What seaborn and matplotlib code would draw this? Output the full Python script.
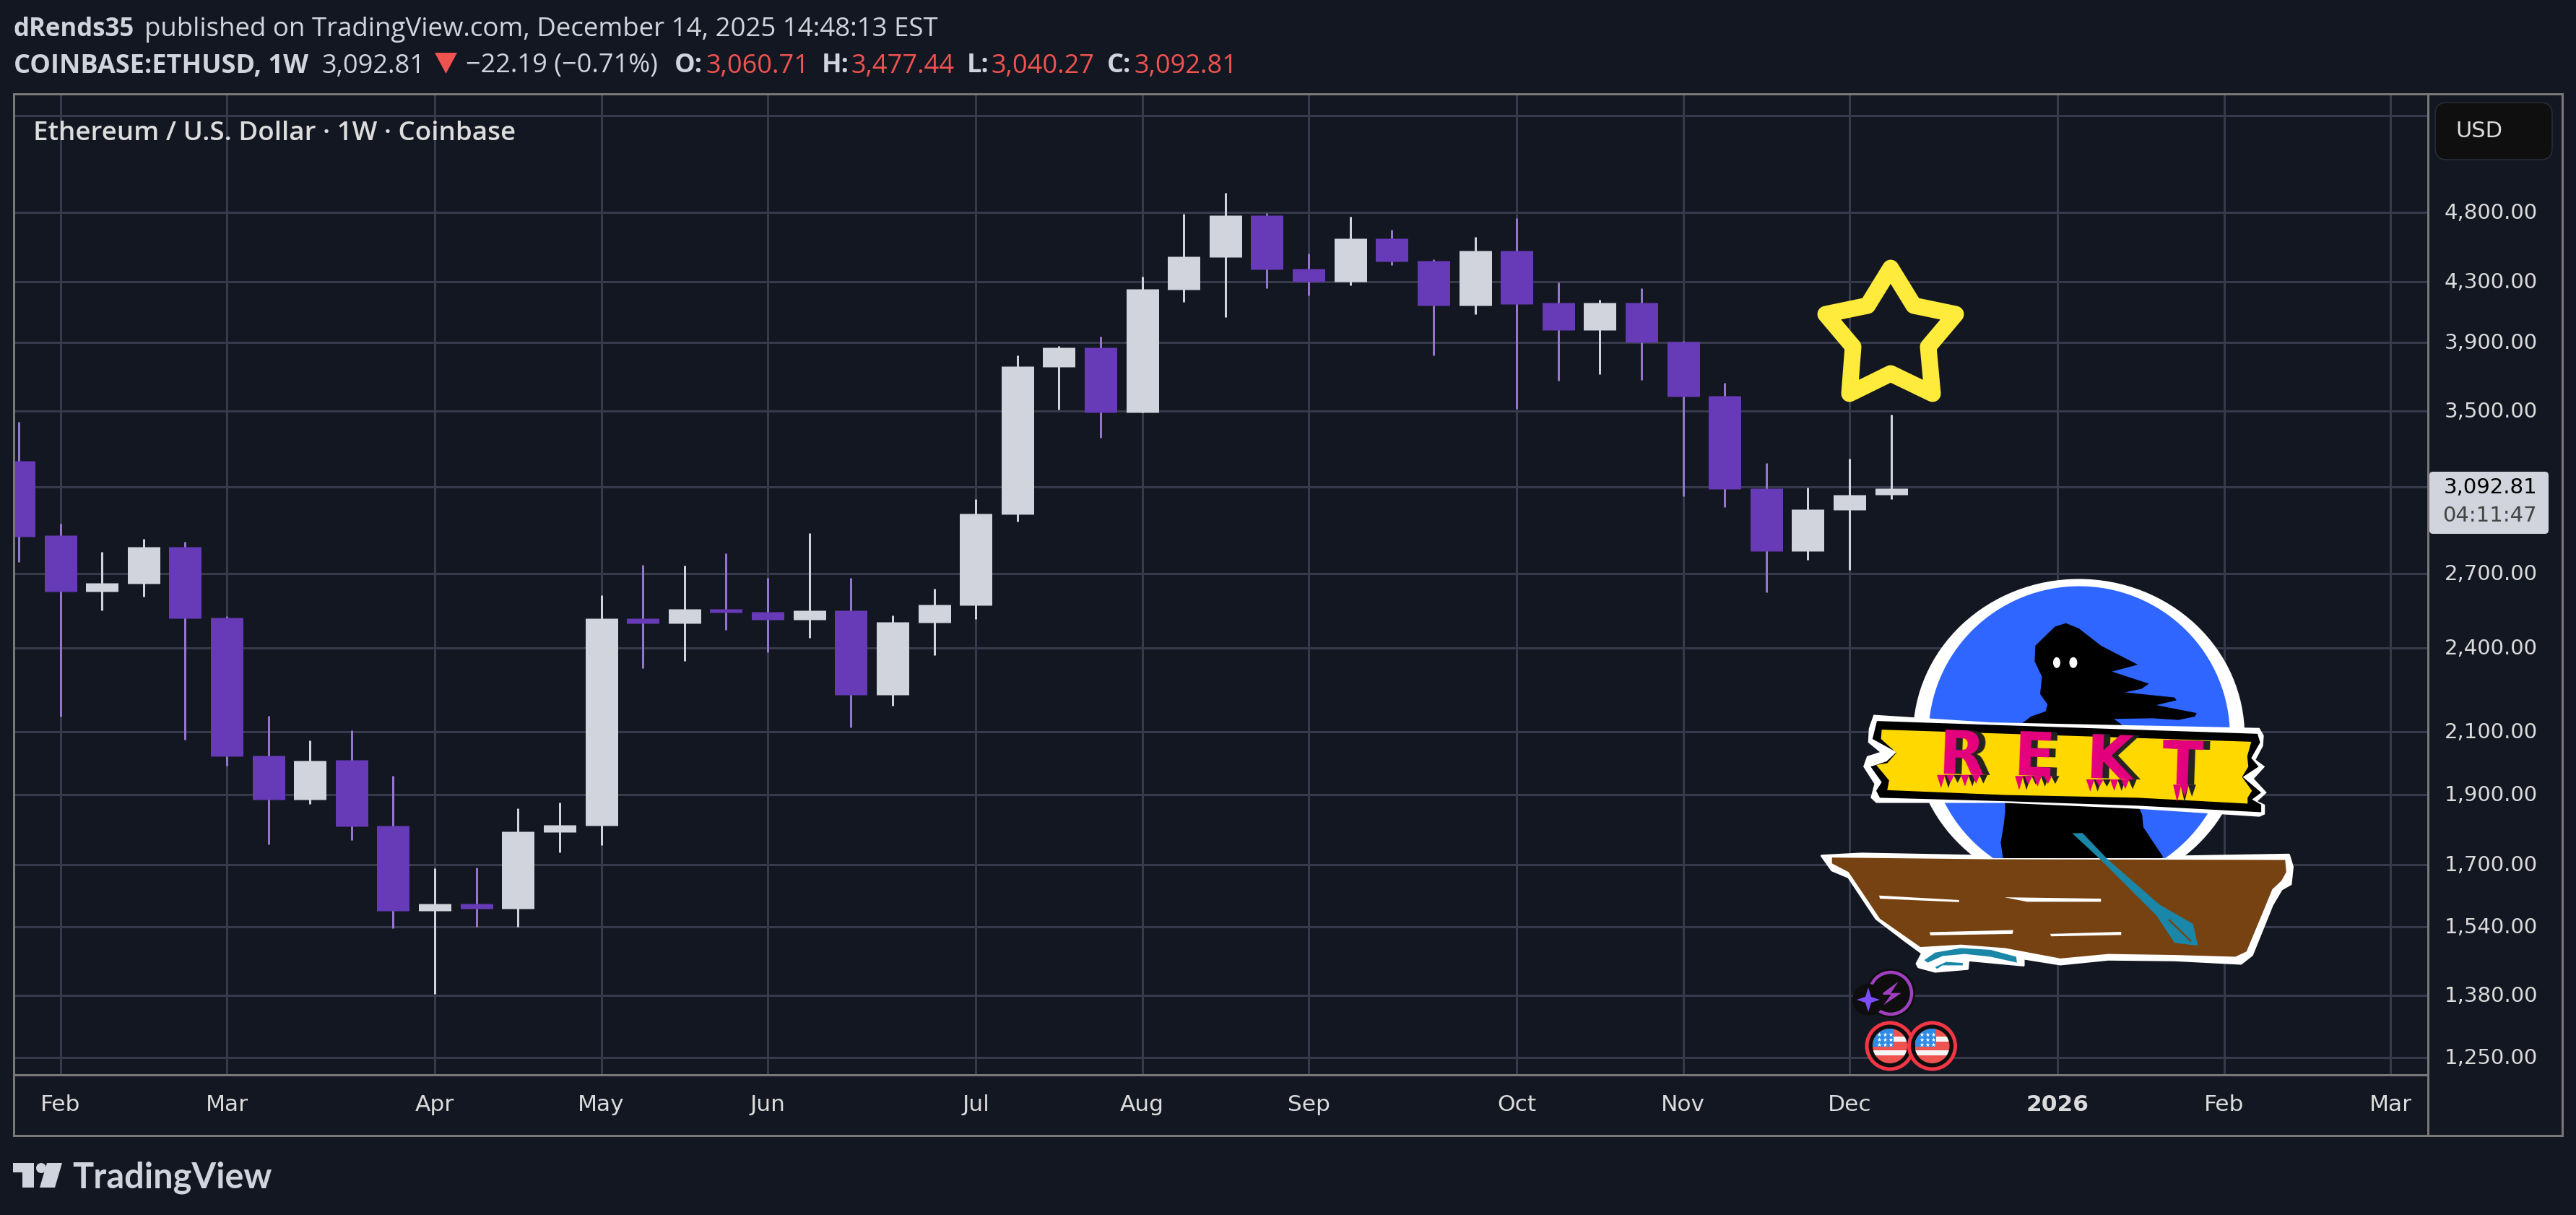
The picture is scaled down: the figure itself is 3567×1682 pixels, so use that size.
import numpy as np
import pandas as pd
import matplotlib.pyplot as plt
import seaborn as sns
from matplotlib.patches import Ellipse, Polygon, Rectangle, FancyBboxPatch, Circle
from matplotlib.transforms import ScaledTranslation

# weekly ETHUSD candles
opens = [3232, 2870, 2623, 2658, 2819, 2518, 2022, 1885, 2008, 1808, 1578, 1597, 1585, 1789, 1808, 2515,
         2495, 2553, 2542, 2509, 2548, 2227, 2499, 2568, 2969, 3752, 3871, 3491, 4244, 4469, 4778, 4388,
         4299, 4605, 4443, 4138, 4517, 4158, 3979, 4158, 3908, 3585, 3093, 2799, 2989, 3060.71]
highs = [3439, 2924, 2795, 2855, 2842, 2523, 2154, 2072, 2105, 1957, 1689, 1691, 1859, 1876, 2610, 2739,
         2735, 2790, 2683, 2881, 2683, 2527, 2637, 3041, 3823, 3880, 3939, 4332, 4790, 4952, 4795, 4495,
         4767, 4670, 4453, 4617, 4755, 4294, 4176, 4254, 3911, 3659, 3221, 3097, 3242, 3477.44]
lows = [2752, 2151, 2547, 2603, 2073, 1990, 1755, 1871, 1767, 1536, 1383, 1539, 1539, 1733, 1753, 2323,
        2350, 2469, 2382, 2438, 2114, 2188, 2371, 2512, 2934, 3507, 3352, 3491, 4163, 4064, 4254, 4204,
        4274, 4415, 3823, 4082, 3511, 3671, 3710, 3676, 3054, 3002, 2622, 2760, 2717, 3040.27]
closes = [2865, 2623, 2660, 2819, 2515, 2019, 1885, 2006, 1806, 1578, 1597, 1585, 1791, 1810, 2515, 2495,
          2553, 2539, 2509, 2548, 2227, 2500, 2571, 2971, 3756, 3871, 3491, 4249, 4474, 4778, 4383, 4299,
          4605, 4440, 4139, 4517, 4149, 3979, 4158, 3902, 3580, 3089, 2799, 2992, 3062, 3092.81]

price_ticks = [5600, 4800, 4300, 3900, 3500, 3100, 2700, 2400, 2100, 1900, 1700, 1540, 1380, 1250]
price_labels = ["", "4,800.00", "4,300.00", "3,900.00", "3,500.00", "", "2,700.00", "2,400.00", "2,100.00",
                "1,900.00", "1,700.00", "1,540.00", "1,380.00", "1,250.00"]
month_ticks = [1, 5, 10, 14, 18, 23, 27, 31, 36, 40, 44, 49, 53, 57]
month_labels = ["Feb", "Mar", "Apr", "May", "Jun", "Jul", "Aug", "Sep", "Oct", "Nov", "Dec", "2026", "Feb", "Mar"]

BG = "#131722"
GRID = "#363A4A"
BORDER = "#787878"
BEAR = "#673AB7"
BEAR_WICK = "#9575CD"
BULL = "#D1D4DC"
TEXT = "#D1D4DC"
AXIS_TEXT = "#DBDBDB"
RED = "#EF5350"

W, H = 3567, 1683
DPI = 100
PX = 72 / DPI  # points per pixel

sns.set_theme(style="darkgrid", rc={
    "figure.facecolor": BG, "axes.facecolor": BG, "savefig.facecolor": BG,
    "grid.color": GRID, "grid.linewidth": 3 * PX,
    "axes.edgecolor": BORDER, "axes.linewidth": 3 * PX,
    "lines.solid_capstyle": "butt",
})
plt.rcParams["font.family"] = ["DejaVu Sans"]

fig = plt.figure(figsize=(W / DPI, H / DPI), dpi=DPI)
ax = fig.add_axes([19 / W, 1 - 1489 / H, (3362 - 19) / W, (1489 - 130.5) / H])
ax.set_yscale("log")

weeks = np.arange(len(opens))
candles = pd.DataFrame({"week": weeks, "open": opens, "high": highs, "low": lows, "close": closes})
candles["dir"] = np.where(candles["close"] >= candles["open"], "up", "down")
candles["top"] = candles[["open", "close"]].max(axis=1)
candles["bottom"] = candles[["open", "close"]].min(axis=1)

wicks = candles.melt(id_vars=["week", "dir"], value_vars=["high", "low"], value_name="price")
bodies = candles.melt(id_vars=["week", "dir"], value_vars=["top", "bottom"], value_name="price")

sns.lineplot(data=wicks, x="week", y="price", units="week", estimator=None, hue="dir",
             palette={"up": BULL, "down": BEAR_WICK}, linewidth=3 * PX, legend=False, ax=ax)
sns.lineplot(data=bodies, x="week", y="price", units="week", estimator=None, hue="dir",
             palette={"up": BULL, "down": BEAR}, linewidth=45 * PX, legend=False, ax=ax)

ax.set_xlim(-0.12, 57.9)
ax.set_ylim(1216, 5799)
ax.set_xlabel("")
ax.set_ylabel("")
ax.minorticks_off()
ax.yaxis.tick_right()
ax.set_yticks(price_ticks)
ax.set_yticklabels(price_labels, color=AXIS_TEXT, fontsize=21, ha="right")
ax.tick_params(axis="y", length=0, pad=152 * PX)
ax.set_xticks(month_ticks)
ax.set_xticklabels(month_labels, color=AXIS_TEXT, fontsize=22.5)
ax.tick_params(axis="x", length=0, pad=26 * PX)
for lab in ax.get_xticklabels():
    if lab.get_text() == "2026":
        lab.set_fontweight("bold")
# price labels sit slightly above their grid lines
nudge = ScaledTranslation(0, 3 / DPI, fig.dpi_scale_trans)
for lab in ax.get_yticklabels():
    lab.set_transform(lab.get_transform() + nudge)
ax.grid(True, axis="both")
ax.set_axisbelow(True)

# overlay in pixel coordinates for the frame, header and the drawn sticker
ov = fig.add_axes([0, 0, 1, 1])
ov.set_xlim(0, W)
ov.set_ylim(H, 0)
ov.axis("off")
ov.patch.set_alpha(0)

ov.add_patch(Rectangle((19, 130.5), 3548 - 19, 1573 - 130.5, fill=False, ec=BORDER, lw=3 * PX))
ov.plot([3362, 3362], [130, 1573], color=BORDER, lw=3 * PX)

# header
hdr = dict(family="Open Sans", fontsize=26, color=TEXT, va="baseline")
ov.text(19, 50, "dRends35", fontweight="bold", **{**hdr, "fontsize": 25})
ov.text(200, 50, "published on TradingView.com, December 14, 2025 14:48:13 EST", **{**hdr, "fontsize": 26.35})
ov.text(19, 100.5, "COINBASE:ETHUSD, 1W", fontweight="bold", **hdr)
ov.text(445, 100.5, "3,092.81", **hdr)
ov.add_patch(Polygon([(602, 74), (633, 74), (617.5, 103)], fc=RED, ec="none"))
ov.text(645, 100.5, "\u221222.19 (\u22120.71%)", **hdr)
for x_lab, lab, x_val, val in [(934, "O:", 977, "3,060.71"), (1138, "H:", 1178, "3,477.44"),
                               (1339, "L:", 1372, "3,040.27"), (1533, "C:", 1570, "3,092.81")]:
    ov.text(x_lab, 100.5, lab, fontweight="bold", **hdr)
    ov.text(x_val, 100.5, val, **{**hdr, "color": RED})
ov.text(46, 194, "Ethereum / U.S. Dollar \u00b7 1W \u00b7 Coinbase", family="Open Sans", fontsize=26.5,
        fontweight="semibold", color="#DDDDDD", va="baseline")

# price scale extras
ov.add_patch(FancyBboxPatch((3372, 143), 162, 79, boxstyle="round,pad=0,rounding_size=16",
                            fc="#0F0F0F", ec="#2A2E39", lw=1.5 * PX))
ov.text(3400, 181, "USD", fontsize=22, color=AXIS_TEXT, va="center")
ov.add_patch(FancyBboxPatch((3364, 654), 165, 86, boxstyle="round,pad=0,rounding_size=5", fc=BULL, ec="none"))
ov.text(3513, 675, "3,092.81", ha="right", va="center", fontsize=21, color="#000000")
ov.text(3513, 714, "04:11:47", ha="right", va="center", fontsize=21, color="#444444")

# star drawn above the last candle
star_line = [(2618, 372), (2650, 424), (2708, 436), (2670, 481), (2676, 546), (2618, 518),
             (2561, 546), (2566, 481), (2528, 436), (2586, 424)]
ov.add_patch(Polygon(star_line, closed=True, fill=False, ec="#FFEB3B", lw=23 * PX, joinstyle="round"))


def z(pts):
    return [(2450 + px / 1.96, 780 + py / 2.09) for px, py in pts]


white_body = Ellipse((2450 + 840 / 1.96, 780 + 500 / 2.09), 2 * 450 / 1.96, 2 * 453 / 2.09, fc="white", ec="none")
blue_body = Ellipse((2450 + 841 / 1.96, 780 + 500 / 2.09), 2 * 409 / 1.96, 2 * 432 / 2.09, fc="#2E66FF", ec="none")
ov.add_patch(white_body)
ov.add_patch(blue_body)

figure_top = [(680, 470), (710, 445), (750, 430), (755, 410), (735, 380), (740, 330), (720, 285), (722, 240),
              (775, 185), (805, 175), (840, 190), (900, 240), (1000, 295), (930, 315), (1030, 350), (1010, 365),
              (965, 375), (1100, 390), (1105, 398), (1050, 412), (1160, 435), (1155, 445), (1110, 455),
              (1040, 450), (935, 452), (965, 475), (968, 490), (680, 490)]
figure_low = [(640, 690), (1000, 700), (1012, 730), (1015, 765), (1068, 850), (1065, 860), (635, 860),
              (628, 810), (636, 760), (640, 720)]
ov.add_patch(Polygon(z(figure_top), fc="black", ec="none"))
ov.add_patch(Polygon(z(figure_low), fc="black", ec="none"))
ov.add_patch(Ellipse((2450 + 780 / 1.96, 780 + 289 / 2.09), 10, 15, fc="white", ec="none"))
ov.add_patch(Ellipse((2450 + 825 / 1.96, 780 + 289 / 2.09), 11, 15, fc="white", ec="none"))

banner_white = [(283, 440), (600, 462), (1330, 478), (1342, 500), (1340, 530), (1320, 570), (1345, 590),
                (1315, 625), (1350, 665), (1325, 690), (1345, 700), (1345, 728), (1330, 735), (1000, 712),
                (640, 695), (290, 695), (275, 680), (285, 640), (255, 590), (265, 560), (300, 548), (268, 520),
                (270, 480)]
banner_black = [(292, 458), (1325, 495), (1332, 520), (1308, 565), (1328, 590), (1285, 620), (1335, 665),
                (1310, 685), (1335, 700), (1335, 722), (1000, 703), (640, 690), (300, 680), (290, 660),
                (305, 635), (275, 590), (318, 575), (345, 548), (280, 510)]
banner_yellow = [(305, 483), (1308, 518), (1297, 560), (1300, 590), (1283, 620), (1310, 660), (1298, 680),
                 (1298, 697), (1000, 680), (640, 672), (320, 658), (325, 630), (290, 585), (320, 580),
                 (345, 550), (303, 510)]
ov.add_patch(Polygon(z(banner_white), fc="white", ec="none"))
ov.add_patch(Polygon(z(banner_black), fc="black", ec="none"))
ov.add_patch(Polygon(z(banner_yellow), fc="#FFD800", ec="none"))

letters = [("R", 525, 562, [(-55, 35), (-30, 20), (10, 30), (40, 22)]),
           ("E", 722, 565, [(-40, 38), (-15, 22), (10, 28), (38, 20)]),
           ("K", 925, 575, [(-50, 32), (-25, 18), (15, 30), (45, 25)]),
           ("T", 1125, 590, [(-14, 48), (6, 32)])]
for letter, lx, ly, drips in letters:
    cx, cy = z([(lx, ly)])[0]
    ov.text(cx + 7, cy, letter, fontsize=60, fontweight="bold", color="#222222", ha="center", va="center", rotation=-2)
    for shift, col in ((16, "#222222"), (-4, "#E6007E")):
        for dx, length in drips:
            ov.add_patch(Polygon(z([(lx + dx + shift - 11, ly + 52), (lx + dx + shift + 11, ly + 52),
                                    (lx + dx + shift, ly + 55 + length)]), fc=col, ec="none"))
    ov.text(cx - 2, cy, letter, fontsize=60, fontweight="bold", color="#E6007E", ha="center", va="center", rotation=-2)

boat_white = [(142, 848), (250, 842), (545, 848), (595, 858), (1085, 858), (1130, 850), (1410, 845), (1420, 880),
              (1415, 930), (1390, 945), (1365, 990), (1310, 1135), (1280, 1160), (1100, 1150), (920, 1148),
              (790, 1162), (690, 1145), (690, 1165), (540, 1150), (538, 1175), (450, 1183), (405, 1170),
              (400, 1160), (415, 1130), (370, 1095), (290, 1030), (215, 910), (170, 890)]
boat_brown = [(170, 853), (595, 858), (1400, 860), (1403, 895), (1390, 920), (1365, 945), (1340, 1010),
              (1295, 1125), (1265, 1140), (1100, 1135), (920, 1132), (790, 1145), (640, 1115), (520, 1105),
              (410, 1112), (300, 1030), (215, 895), (170, 870)]
ov.add_patch(Polygon(z(boat_white), fc="white", ec="white", lw=3 * PX, joinstyle="round"))
ov.add_patch(Polygon(z(boat_brown), fc="#774212", ec="none"))
for plank in ([(298, 963), (515, 976), (515, 982), (300, 972)], [(638, 968), (900, 972), (900, 981), (700, 981)],
              [(435, 1069), (662, 1063), (660, 1074), (437, 1078)], [(762, 1074), (955, 1068), (955, 1077), (765, 1081)]):
    ov.add_patch(Polygon(z(plank), fc="white", ec="none"))
oar = [(822, 783), (850, 782), (920, 860), (1060, 990), (1150, 1045), (1163, 1108), (1100, 1100), (1050, 1020), (900, 860)]
ov.add_patch(Polygon(z(oar), fc="#1A87A8", ec="none"))
ov.add_patch(Polygon(z([(1085, 1030), (1147, 1095), (1143, 1097), (1083, 1035)]), fc="#774212", ec="none"))
ov.add_patch(Polygon(z([(420, 1150), (450, 1128), (520, 1115), (600, 1120), (670, 1140), (672, 1157), (600, 1140),
                        (530, 1132), (470, 1138), (430, 1157)]), fc="#1A87A8", ec="none"))
ov.add_patch(Polygon(z([(450, 1170), (480, 1155), (525, 1158), (525, 1165), (470, 1165), (455, 1175)]),
                     fc="#1A87A8", ec="none"))

# event icons under the last candle
ov.add_patch(Circle((2618, 1376), 34, fc="#0E0E0E", ec="none"))
ov.add_patch(Circle((2618, 1376), 29, fc="#0E0E0E", ec="#A040C0", lw=4.5 * PX))
ov.add_patch(Polygon(z([(350, 1212), (330, 1245), (358, 1245), (310, 1280), (330, 1250), (302, 1250)]),
                     fc="#A040C0", ec="none"))
sx, sy = 2587, 1385
ov.add_patch(Circle((sx, sy), 22, fc="#0E0E0E", ec="none"))
ov.add_patch(Polygon([(sx, sy - 17), (sx + 4, sy - 4), (sx + 16, sy), (sx + 4, sy + 4), (sx, sy + 17),
                      (sx - 4, sy + 4), (sx - 16, sy), (sx - 4, sy - 4)], fc="#7C4DFF", ec="none"))

for fx in (2617, 2675.5):
    fy = 1449
    ov.add_patch(Circle((fx, fy), 32, fc="#0E0E0E", ec="#F23645", lw=5 * PX))
    clip = Circle((fx, fy), 24, transform=ov.transData)
    for y0, y1, col in [(-24, -13, RED), (-13, -6, "#F5F5F5"), (-6, 6, RED), (6, 13, "#F5F5F5"), (13, 24, RED)]:
        band = Rectangle((fx - 24, fy + y0), 48, y1 - y0, fc=col, ec="none")
        ov.add_patch(band)
        band.set_clip_path(clip)
    canton = Rectangle((fx - 24, fy - 24), 29, 25, fc="#2E8BE6", ec="none")
    ov.add_patch(canton)
    canton.set_clip_path(clip)
    for row in (-16, -9, -2):
        ov.scatter([fx - 15, fx - 7, fx + 1], [fy + row] * 3, marker="*", s=22, c="white", linewidths=0)

# TradingView logo
ov.add_patch(Polygon([(18, 1611), (47, 1611), (47, 1645), (31, 1645), (31, 1624), (18, 1624)], fc=TEXT, ec="none"))
ov.add_patch(Circle((57, 1618), 7, fc=TEXT, ec="none"))
ov.add_patch(Polygon([(65, 1611), (86, 1611), (76, 1645), (55, 1645)], fc=TEXT, ec="none"))
ov.text(100, 1645, "TradingView", family="Lato", fontsize=35, fontweight="bold", color=TEXT, va="baseline")

fig.savefig("out.png", dpi=DPI, facecolor=BG)
plt.close(fig)
